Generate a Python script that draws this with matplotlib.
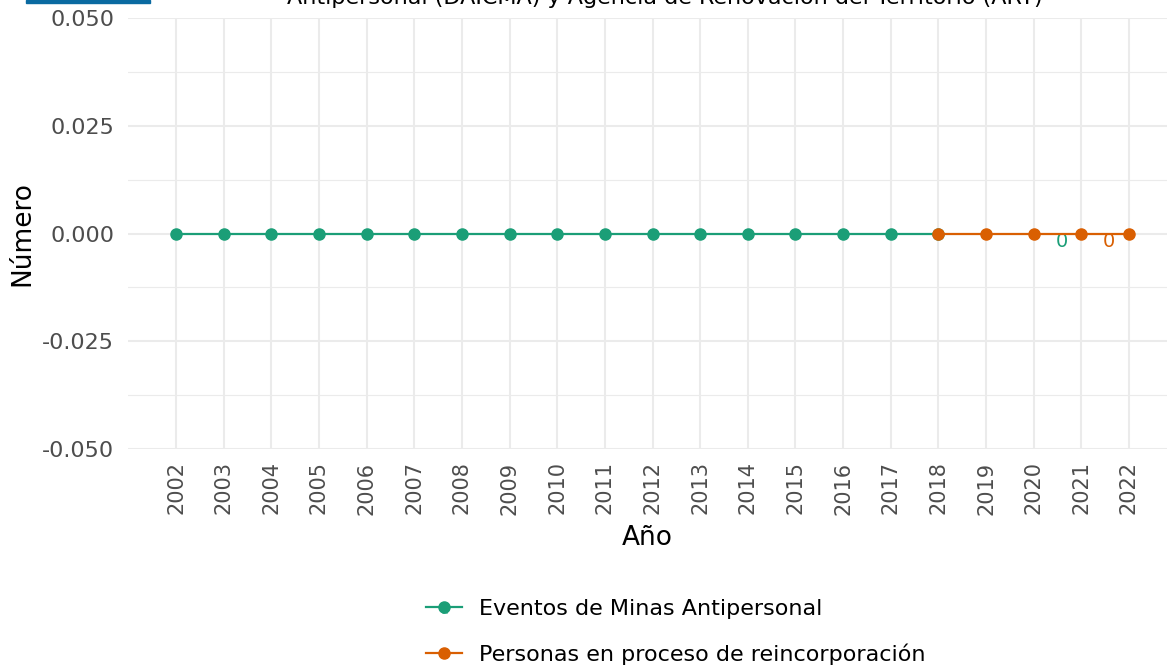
import matplotlib
matplotlib.use("Agg")
import matplotlib.pyplot as plt
from matplotlib.patches import Rectangle
from matplotlib.legend_handler import HandlerLine2D

# datos
anios_minas = list(range(2002, 2019))
valores_minas = [0] * len(anios_minas)
anios_reinc = [2018, 2019, 2020, 2021, 2022]
valores_reinc = [0, 0, 0, 0, 0]
todos_anios = list(range(2002, 2023))
yticks = [-0.050, -0.025, 0.000, 0.025, 0.050]
etiquetas = ["Eventos de Minas Antipersonal", "Personas en proceso de reincorporación"]
colores = ["#1b9e77", "#d95f02"]


class HandlerLineaTexto(HandlerLine2D):
    # clave de leyenda tipo ggplot: linea + punto + "a"
    def create_artists(self, legend, orig_handle, xdescent, ydescent, width, height, fontsize, trans):
        arts = super().create_artists(legend, orig_handle, xdescent, ydescent, width, height, fontsize, trans)
        t = plt.Text(width / 2 - xdescent, height / 2 - ydescent - 2, "a", color=orig_handle.get_color(),
                     fontsize=9, ha="center", va="center", alpha=0.8)
        t.set_transform(trans)
        return arts + [t]


fig = plt.figure(figsize=(11.67, 6.68), dpi=100)
ax = fig.add_axes([128 / 1167, 1 - 449 / 668, 1039 / 1167, 431 / 668])

ax.plot(anios_minas, valores_minas, "-o", color=colores[0], lw=1.6, ms=8, label=etiquetas[0], zorder=3)
ax.plot(anios_reinc, valores_reinc, "-o", color=colores[1], lw=1.6, ms=8, label=etiquetas[1], zorder=4)

# etiquetas de valor
ax.text(2020.59, -0.0019, "0", color=colores[0], fontsize=14, ha="center", va="center")
ax.text(2021.58, -0.0019, "0", color=colores[1], fontsize=14, ha="center", va="center")

ax.set_xlim(2002 - 48 / 47.65, 2022 + 38 / 47.65)
ax.set_ylim(-0.05, 0.05)
ax.set_xticks(todos_anios)
ax.set_xticklabels([str(a) for a in todos_anios], rotation=90)
ax.set_yticks(yticks)
ax.set_yticklabels([f"{v:.3f}" for v in yticks])
ax.set_yticks([-0.0375, -0.0125, 0.0125, 0.0375], minor=True)
ax.tick_params(axis="both", which="both", length=0, labelcolor="#4d4d4d")
ax.tick_params(axis="x", pad=9, labelsize=15)
ax.tick_params(axis="y", pad=10, labelsize=16)
ax.grid(which="major", color="#ebebeb", lw=1.5)
ax.grid(which="minor", axis="y", color="#ebebeb", lw=0.8)
ax.set_axisbelow(True)
for s in ax.spines.values():
    s.set_visible(False)

ax.set_xlabel("Año", fontsize=19)
ax.xaxis.set_label_coords(0.5, -0.176)
ax.set_ylabel("Número", fontsize=19)
ax.yaxis.set_label_coords(-0.089, 0.5)

fig.text(665 / 1167, 1 - 4 / 668, "Antipersonal (DAICMA) y Agencia de Renovación del Territorio (ART)",
         fontsize=16, ha="center", va="baseline")
fig.patches.append(Rectangle((26 / 1167, 1 - 3 / 668), 124 / 1167, 3 / 668,
                             transform=fig.transFigure, color="#0a6aa1"))

h, l = ax.get_legend_handles_labels()
fig.legend(h, l, loc="center", bbox_to_anchor=(676 / 1167, 1 - 632 / 668), frameon=False,
           fontsize=16, handlelength=1.6, labelspacing=1.1, handletextpad=0.8,
           handler_map={plt.Line2D: HandlerLineaTexto()})

fig.savefig("out.png", dpi=100)
